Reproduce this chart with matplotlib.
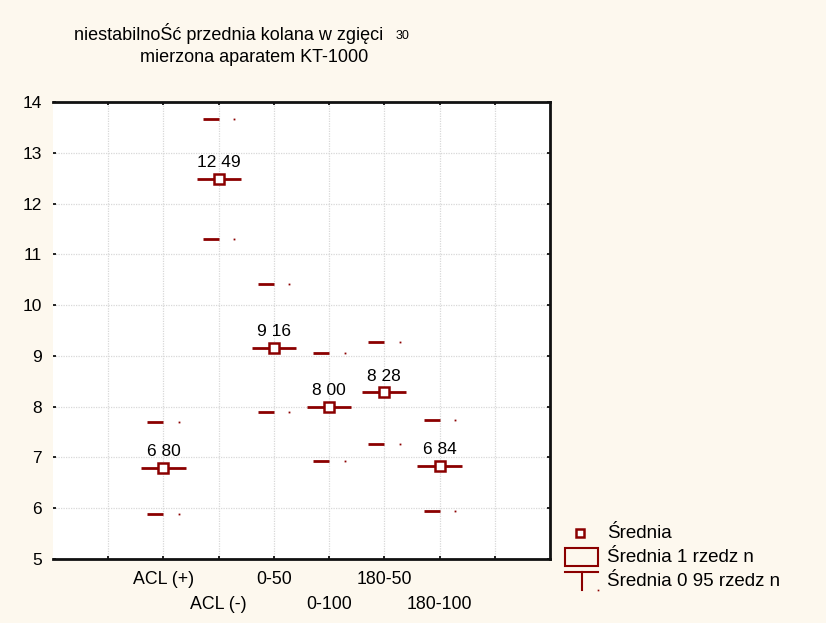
import matplotlib
matplotlib.use("Agg")
import matplotlib.pyplot as plt
from matplotlib.lines import Line2D
from matplotlib.patches import Rectangle

plt.rcParams['font.family'] = ['Liberation Sans', 'DejaVu Sans']

categories = ['ACL (+)', 'ACL (-)', '0-50', '0-100', '180-50', '180-100']
means = [6.80, 12.49, 9.16, 8.00, 8.28, 6.84]
upper95 = [7.70, 13.67, 10.41, 9.06, 9.28, 7.74]
lower95 = [5.89, 11.30, 7.89, 6.93, 7.27, 5.94]
yticks = [5, 6, 7, 8, 9, 10, 11, 12, 13, 14]

RED = '#8b0000'
BG = '#fdf8ee'
W, H = 826, 623

fig = plt.figure(figsize=(W / 100, H / 100), dpi=100, facecolor=BG)
ax = fig.add_axes([53 / W, 1 - 559 / H, (550 - 53) / W, (559 - 102) / H])
ax.set_facecolor('white')

positions = list(range(2, 2 + len(categories)))

ax.set_xlim(0, 9)
ax.set_ylim(5, 14)
ax.set_yticks(yticks)
ax.set_xticks(range(1, 9))
ax.grid(True, color='#d8d8d8', linestyle=(0, (1, 1)), linewidth=0.9)
ax.set_axisbelow(True)

for p, m, u, l in zip(positions, means, upper95, lower95):
    ax.hlines(m, p - 0.4, p + 0.4, color=RED, linewidth=2, zorder=3)
    ax.hlines([u, l], p - 0.29, p, color=RED, linewidth=2, zorder=3)
    ax.plot([p + 0.28, p + 0.28], [u, l], linestyle='none', marker='s',
            markersize=1.3, color=RED, markeredgewidth=0, zorder=3)
    ax.plot(p, m, marker='s', markersize=6.5, markerfacecolor='white',
            markeredgecolor=RED, markeredgewidth=1.8, zorder=4)
    ax.text(p, m + 0.32, f"{m:.2f}".replace('.', ' '), ha='center',
            va='center', fontsize=12.5, color='black', zorder=5)

for i, (p, c) in enumerate(zip(positions, categories)):
    yoff = -0.045 if i % 2 == 0 else -0.1
    ax.text(p, yoff, c, transform=ax.get_xaxis_transform(), ha='center',
            va='center', fontsize=12.8)

ax.set_xticklabels([])
ax.tick_params(axis='x', direction='in', length=2.5, width=1.2, top=True, bottom=True)
ax.tick_params(axis='y', direction='in', length=2.5, width=1.2, left=True, right=True,
               labelsize=12.5, pad=8)
for s in ['top', 'bottom', 'right']:
    ax.spines[s].set_linewidth(2)
    ax.spines[s].set_color('#111111')
ax.spines['left'].set_visible(False)

fig.text(229 / W, 1 - 33 / H, 'niestabilnoŚć przednia kolana w zgięci', ha='center',
         va='center', fontsize=13)
fig.text(396 / W, 1 - 39 / H, '30', ha='left', va='baseline', fontsize=9)
fig.text(254 / W, 1 - 57 / H, 'mierzona aparatem KT-1000', ha='center',
         va='center', fontsize=13)

def fx(x):
    return x / W

def fy(y):
    return 1 - y / H

fig.add_artist(Line2D([fx(580)], [fy(533)], marker='s', markersize=6,
                      markerfacecolor='white', markeredgecolor=RED,
                      markeredgewidth=1.8, linestyle='none'))
fig.add_artist(Rectangle((fx(565), fy(566)), fx(598) - fx(565), fy(548) - fy(566),
                         facecolor='none', edgecolor=RED, linewidth=1.5,
                         transform=fig.transFigure))
fig.add_artist(Line2D([fx(565), fx(598)], [fy(572), fy(572)], color=RED, linewidth=1.5))
fig.add_artist(Line2D([fx(582), fx(582)], [fy(572), fy(590)], color=RED, linewidth=1.5))
fig.add_artist(Line2D([fx(598)], [fy(590)], marker='s', markersize=1.2, color=RED,
                      markeredgewidth=0, linestyle='none'))
for y, t in [(533, 'Średnia'), (558, 'Średnia 1 rzedz n'), (581, 'Średnia 0 95 rzedz n')]:
    fig.text(fx(607), fy(y), t, ha='left', va='center', fontsize=13.5)

fig.savefig('out.png', dpi=100, facecolor=BG)
